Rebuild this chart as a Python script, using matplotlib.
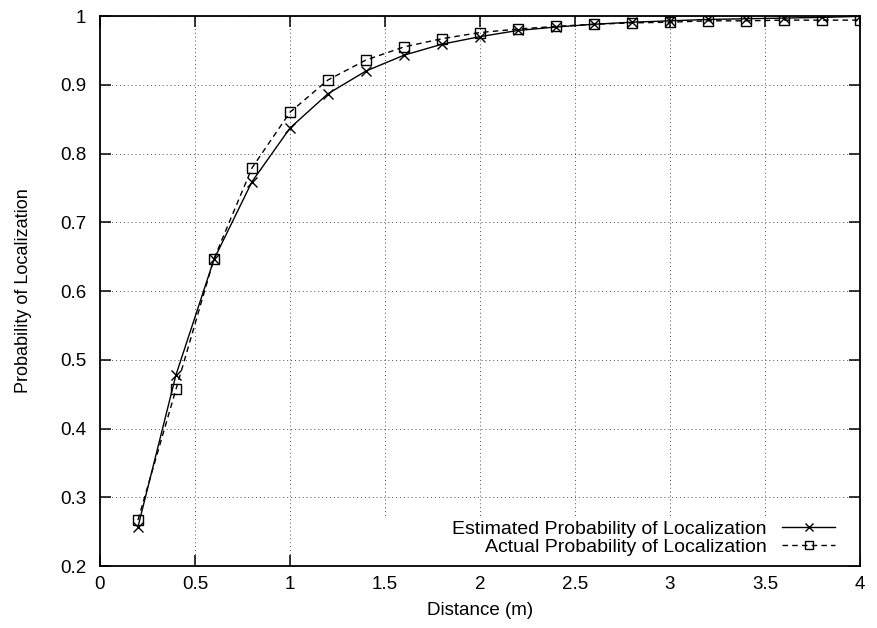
import numpy as np
import matplotlib.pyplot as plt
from matplotlib.patches import Rectangle

# Probabilitat de localització en funció de la distància
distancia = [0.2, 0.4, 0.6, 0.8, 1.0, 1.2, 1.4, 1.6, 1.8, 2.0,
             2.2, 2.4, 2.6, 2.8, 3.0, 3.2, 3.4, 3.6, 3.8, 4.0]
estimada = [0.257, 0.478, 0.646, 0.759, 0.837, 0.887, 0.920, 0.943, 0.959, 0.970,
            0.979, 0.984, 0.988, 0.991, 0.993, 0.995, 0.996, 0.997, 0.998, 0.9995]
real = [0.267, 0.457, 0.647, 0.779, 0.860, 0.907, 0.936, 0.955, 0.967, 0.976,
        0.981, 0.985, 0.988, 0.990, 0.991, 0.993, 0.993, 0.994, 0.994, 0.994]

xticks = [0, 0.5, 1, 1.5, 2, 2.5, 3, 3.5, 4]
xtick_labels = ['0', '0.5', '1', '1.5', '2', '2.5', '3', '3.5', '4']
yticks = [0.2, 0.3, 0.4, 0.5, 0.6, 0.7, 0.8, 0.9, 1.0]
ytick_labels = ['0.2', '0.3', '0.4', '0.5', '0.6', '0.7', '0.8', '0.9', '1']

plt.rcParams['font.family'] = ['Liberation Sans', 'DejaVu Sans']
plt.rcParams['font.size'] = 13.5

fig = plt.figure(figsize=(8.77, 6.28), dpi=100)
ax = fig.add_axes([0.114, 0.0987, 0.8666, 0.8758])

ax.plot(distancia, estimada, color='black', linestyle='-', linewidth=1.0,
        marker='x', markersize=7, markeredgewidth=1.0, zorder=3,
        label="Estimated Probability of Localization")
ax.plot(distancia, real, color='black', linestyle=(0, (4, 3)), linewidth=1.0,
        marker='s', markersize=7, markeredgewidth=1.0, fillstyle='none', zorder=3,
        label="Actual Probability of Localization")

ax.set_xlim(0, 4)
ax.set_ylim(0.2, 1)
ax.set_xticks(xticks)
ax.set_yticks(yticks)
ax.set_xticklabels(xtick_labels)
ax.set_yticklabels(ytick_labels)

ax.tick_params(direction='in', length=8, width=1.1, top=True, right=True)
ax.tick_params(axis='x', pad=7)
ax.tick_params(axis='y', pad=10)
ax.set_axisbelow(True)
ax.grid(True, color='black', linestyle=(0, (1, 3)), linewidth=0.7, alpha=0.7)
for s in ax.spines.values():
    s.set_linewidth(1.3)

# fons blanc de la llegenda, tapa la graella
ax.add_patch(Rectangle((0.355, 0), 0.645, 0.087, transform=ax.transAxes,
                       facecolor='white', edgecolor='none', zorder=1))

ax.legend(loc='lower right', bbox_to_anchor=(0.967, 0.018),
          markerfirst=False, frameon=False, fontsize=14,
          handlelength=2.7, handletextpad=0.8, labelspacing=0.05,
          borderaxespad=0, borderpad=0, markerscale=0.85)

ax.set_xlabel('Distance (m)', fontsize=13.5, labelpad=7)
ax.set_ylabel('Probability of Localization', fontsize=13, labelpad=20)

plt.savefig("out.png")
